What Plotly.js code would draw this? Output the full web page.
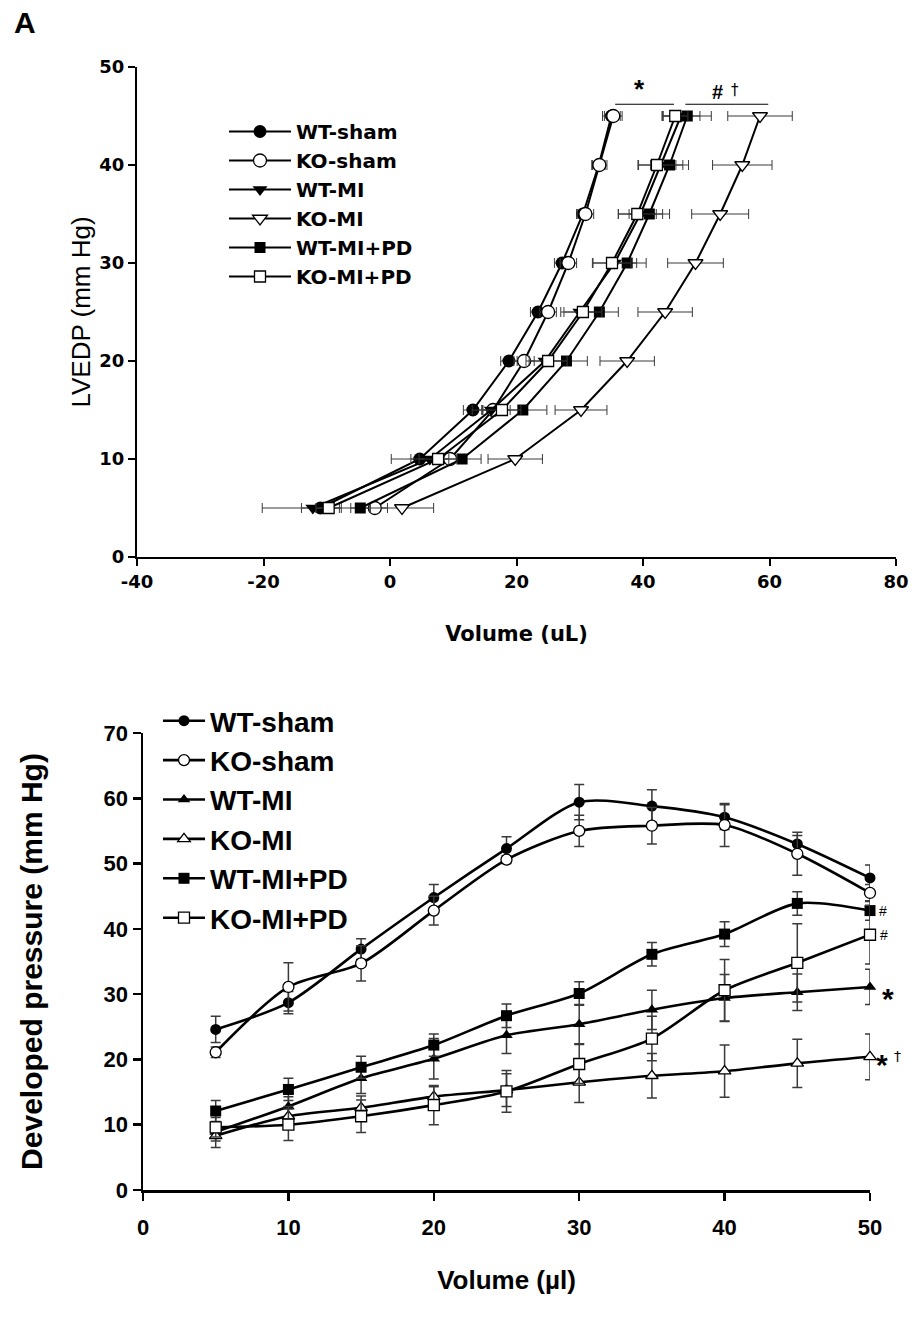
<!DOCTYPE html>
<html>
<head>
<meta charset="utf-8">
<script src="https://cdn.plot.ly/plotly-3.0.1.min.js"></script>
<style>
  html, body { margin: 0; padding: 0; background: #fff; }
  #chart { width: 912px; height: 1325px; }
</style>
</head>
<body>
<div id="chart"></div>
<script>
// ---------- Panel A: LVEDP vs Volume ----------
var groupNames = ["WT-sham", "KO-sham", "WT-MI", "KO-MI", "WT-MI+PD", "KO-MI+PD"];
var pressureLevels = [5, 10, 15, 20, 25, 30, 35, 40, 45];

var volWTsham   = [-11.0, 4.7, 13.1, 18.8, 23.4, 27.2, 30.5, 33.0, 35.0];
var volKOsham   = [-2.4, 9.5, 16.3, 21.2, 25.0, 28.2, 30.9, 33.1, 35.3];
var volWTMI     = [-12.2, 6.3, 16.0, 24.5, 30.0, 35.5, 39.6, 42.8, 46.0];
var volKOMI     = [1.9, 19.8, 30.2, 37.5, 43.5, 48.3, 52.2, 55.7, 58.5];
var volWTMIPD   = [-4.7, 11.4, 21.0, 27.9, 33.1, 37.5, 41.0, 44.2, 47.0];
var volKOMIPD   = [-9.7, 7.6, 17.7, 25.0, 30.5, 35.1, 39.1, 42.2, 45.1];

var volErrWTsham = [3.0, 4.5, 1.5, 1.3, 1.2, 1.2, 1.0, 1.0, 1.4];
var volErrKOsham = [2.0, 2.0, 1.8, 1.6, 1.3, 1.3, 1.3, 1.2, 1.4];
var volErrWTMI   = [8.0, 3.0, 3.0, 3.0, 3.0, 3.5, 3.5, 3.5, 3.0];
var volErrKOMI   = [5.0, 4.3, 4.1, 4.3, 4.3, 4.4, 4.5, 4.7, 5.1];
var volErrWTMIPD = [1.5, 3.0, 3.8, 3.3, 3.0, 3.0, 3.2, 3.0, 3.8];
var volErrKOMIPD = [2.0, 3.0, 3.0, 3.0, 3.0, 3.0, 3.0, 3.0, 2.0];

var topXTicks = [-40, -20, 0, 20, 40, 60, 80];
var topXTickText = ["-40", "-20", "0", "20", "40", "60", "80"];

// ---------- Panel B: Developed pressure vs Volume ----------
var volumeSteps = [5, 10, 15, 20, 25, 30, 35, 40, 45, 50];

var devWTsham = [24.6, 28.7, 36.9, 44.8, 52.3, 59.4, 58.8, 57.1, 53.0, 47.8];
var devKOsham = [21.1, 31.1, 34.7, 42.8, 50.6, 55.0, 55.8, 55.9, 51.5, 45.5];
var devWTMI   = [8.9, 12.8, 17.1, 20.1, 23.7, 25.4, 27.6, 29.4, 30.3, 31.1];
var devKOMI   = [8.3, 11.3, 12.6, 14.3, 15.3, 16.5, 17.5, 18.2, 19.4, 20.4];
var devWTMIPD = [12.1, 15.4, 18.8, 22.2, 26.7, 30.1, 36.1, 39.2, 43.9, 42.8];
var devKOMIPD = [9.6, 10.0, 11.3, 13.0, 15.1, 19.3, 23.2, 30.6, 34.8, 39.1];

var devErrWTsham = [2.0, 1.7, 1.6, 2.0, 1.8, 2.7, 2.5, 1.9, 1.3, 2.0];
var devErrKOsham = [0.8, 3.7, 2.7, 2.2, 0.6, 2.4, 2.8, 3.3, 3.3, 1.3];
var devErrWTMI   = [1.4, 1.5, 2.3, 3.1, 2.8, 3.0, 3.0, 3.6, 2.8, 2.7];
var devErrKOMI   = [1.8, 1.5, 1.8, 1.5, 2.5, 3.1, 3.4, 4.0, 3.7, 3.5];
var devErrWTMIPD = [1.6, 1.7, 1.7, 1.7, 1.8, 1.8, 1.8, 1.9, 1.8, 1.5];
var devErrKOMIPD = [1.5, 2.4, 2.5, 3.0, 3.2, 3.0, 3.4, 4.7, 6.0, 4.5];

// significance marks beside the last points of panel B: [text, value, size, bold, dx]
var sigMarks = [["#", 42.8, 14, false, 13], ["#", 39.1, 14, false, 14], ["*", 29.4, 30, true, 18], ["*", 19.2, 30, true, 12], ["†", 20.6, 14, false, 27]];

// ---------- styles ----------
var topSymbols = ["circle", "circle-open", "triangle-down", "triangle-down-open", "square", "square-open"];
var botSymbols = ["circle", "circle-open", "triangle-up", "triangle-up-open", "square", "square-open"];

var topVols = [volWTsham, volKOsham, volWTMI, volKOMI, volWTMIPD, volKOMIPD];
var topErrs = [volErrWTsham, volErrKOsham, volErrWTMI, volErrKOMI, volErrWTMIPD, volErrKOMIPD];
var botVals = [devWTsham, devKOsham, devWTMI, devKOMI, devWTMIPD, devKOMIPD];
var botErrs = [devErrWTsham, devErrKOsham, devErrWTMI, devErrKOMI, devErrWTMIPD, devErrKOMIPD];

function markerFor(sym, size) {
  var open = sym.indexOf("-open") >= 0;
  return {
    symbol: open ? sym.replace("-open", "") : sym,
    size: size,
    color: open ? "#ffffff" : "#000000",
    line: { color: "#000000", width: open ? 1.3 : 0 }
  };
}

var traces = [];
for (var i = 0; i < groupNames.length; i++) {
  traces.push({
    type: "scatter",
    mode: "lines+markers",
    name: groupNames[i],
    x: topVols[i],
    y: pressureLevels,
    xaxis: "x",
    yaxis: "y",
    legend: "legend",
    line: { color: "#000000", width: 2 },
    marker: markerFor(topSymbols[i], topSymbols[i].indexOf("square") >= 0 ? 11 : 13),
    error_x: { type: "data", array: topErrs[i], visible: true, color: "#3a3a3a", thickness: 1, width: 5 },
    cliponaxis: false
  });
}
for (var j = 0; j < groupNames.length; j++) {
  traces.push({
    type: "scatter",
    mode: "lines+markers",
    name: groupNames[j],
    x: volumeSteps,
    y: botVals[j],
    xaxis: "x2",
    yaxis: "y2",
    legend: "legend2",
    line: { color: "#000000", width: 2.6, shape: "spline", smoothing: 0.8 },
    marker: markerFor(botSymbols[j], 11),
    error_y: { type: "data", array: botErrs[j], visible: true, color: "#3a3a3a", thickness: 1.5, width: 5 },
    cliponaxis: false
  });
}

var W = 912, H = 1325;
function fx(px) { return px / W; }
function fy(py) { return 1 - py / H; }

// bottom panel frame (pixels)
var B_LEFT = 143, B_RIGHT = 870, B_TOP = 733, B_BOTTOM = 1190;

var topFont = { family: "DejaVu Sans, Arial, sans-serif", size: 18, color: "#000", weight: "bold" };
var botFont = { family: "Liberation Sans Narrow, Arial Narrow, Liberation Sans, Arial, sans-serif", size: 22, color: "#000", weight: "bold" };
var annFont = "Liberation Sans, Arial, sans-serif";
var symFont = "DejaVu Sans, Liberation Sans, sans-serif";

function paperAnn(text, px, py, size, bold) {
  var fam = (text === "†") ? symFont : annFont;
  return { text: text, xref: "paper", yref: "paper", x: fx(px), y: fy(py), xanchor: "center", yanchor: "middle",
           showarrow: false, font: { family: fam, size: size, color: "#000000", weight: bold ? "bold" : "normal" } };
}

var annotations = [
  { text: "A", xref: "paper", yref: "paper", x: fx(12), y: fy(4), xanchor: "left", yanchor: "top", showarrow: false,
    font: { family: annFont, size: 30, color: "#000", weight: "bold" } },
  paperAnn("*", 639, 89, 26, true),
  paperAnn("#", 717, 92, 20, true),
  paperAnn("†", 735, 90, 15, false)
];
sigMarks.forEach(function (m) {
  var py = B_BOTTOM - m[1] * (B_BOTTOM - B_TOP) / 70;
  annotations.push(paperAnn(m[0], B_RIGHT + m[4], py, m[2], m[3]));
});

var layout = {
  width: W, height: H,
  margin: { l: 0, r: 0, t: 0, b: 0 },
  paper_bgcolor: "#ffffff",
  plot_bgcolor: "rgba(0,0,0,0)",
  showlegend: true,
  xaxis: {
    domain: [fx(137), fx(896)],
    range: [-40, 80], tickvals: topXTicks, ticktext: topXTickText,
    showgrid: false, zeroline: false,
    showline: true, linecolor: "#000", linewidth: 2,
    ticks: "outside", ticklen: 7, tickwidth: 2, tickcolor: "#000",
    tickfont: topFont,
    anchor: "y",
    title: { text: "Volume (uL)", font: { family: "DejaVu Sans, Arial, sans-serif", size: 21, color: "#000", weight: "bold" }, standoff: 36 }
  },
  yaxis: {
    domain: [fy(557), fy(67)],
    range: [0, 50], dtick: 10,
    showgrid: false, zeroline: false,
    showline: true, linecolor: "#000", linewidth: 2,
    ticks: "outside", ticklen: 7, tickwidth: 2, tickcolor: "#000",
    tickfont: topFont,
    anchor: "x",
    title: { text: "LVEDP (mm Hg)", font: { family: annFont, size: 26, color: "#000" }, standoff: 1 }
  },
  xaxis2: {
    domain: [fx(B_LEFT), fx(B_RIGHT)],
    range: [0, 50], dtick: 10,
    showgrid: false, zeroline: false,
    showline: true, linecolor: "#000", linewidth: 2.5,
    ticks: "outside", ticklen: 8, tickwidth: 2.5, tickcolor: "#000",
    ticklabelstandoff: 8,
    tickfont: botFont,
    anchor: "y2",
    title: { text: "Volume (µl)", font: { family: annFont, size: 26, color: "#000", weight: "bold" }, standoff: 32 }
  },
  yaxis2: {
    domain: [fy(B_BOTTOM), fy(B_TOP)],
    range: [0, 70], dtick: 10,
    showgrid: false, zeroline: false,
    showline: true, linecolor: "#000", linewidth: 2.5,
    ticks: "outside", ticklen: 8, tickwidth: 2.5, tickcolor: "#000",
    tickfont: botFont,
    anchor: "x2",
    title: { text: "Developed pressure (mm Hg)", font: { family: annFont, size: 30, color: "#000", weight: "bold" }, standoff: 52 }
  },
  legend: {
    x: fx(224), y: fy(112), xanchor: "left", yanchor: "top",
    bgcolor: "rgba(0,0,0,0)", borderwidth: 0,
    font: { family: "DejaVu Sans, Arial, sans-serif", size: 20, color: "#000", weight: "bold" },
    itemwidth: 62, tracegroupgap: 0
  },
  legend2: {
    x: fx(158), y: fy(696), xanchor: "left", yanchor: "top",
    bgcolor: "rgba(0,0,0,0)", borderwidth: 0,
    font: { family: annFont, size: 28, color: "#000", weight: "bold" },
    itemwidth: 42, tracegroupgap: 0
  },
  shapes: [
    { type: "line", xref: "x", yref: "y", x0: 35.6, x1: 44.9, y0: 46.2, y1: 46.2, line: { color: "#000", width: 1.2 } },
    { type: "line", xref: "x", yref: "y", x0: 46.7, x1: 59.8, y0: 46.2, y1: 46.2, line: { color: "#000", width: 1.2 } }
  ],
  annotations: annotations
};

Plotly.newPlot("chart", traces, layout, { staticPlot: true, displayModeBar: false });
</script>
</body>
</html>
